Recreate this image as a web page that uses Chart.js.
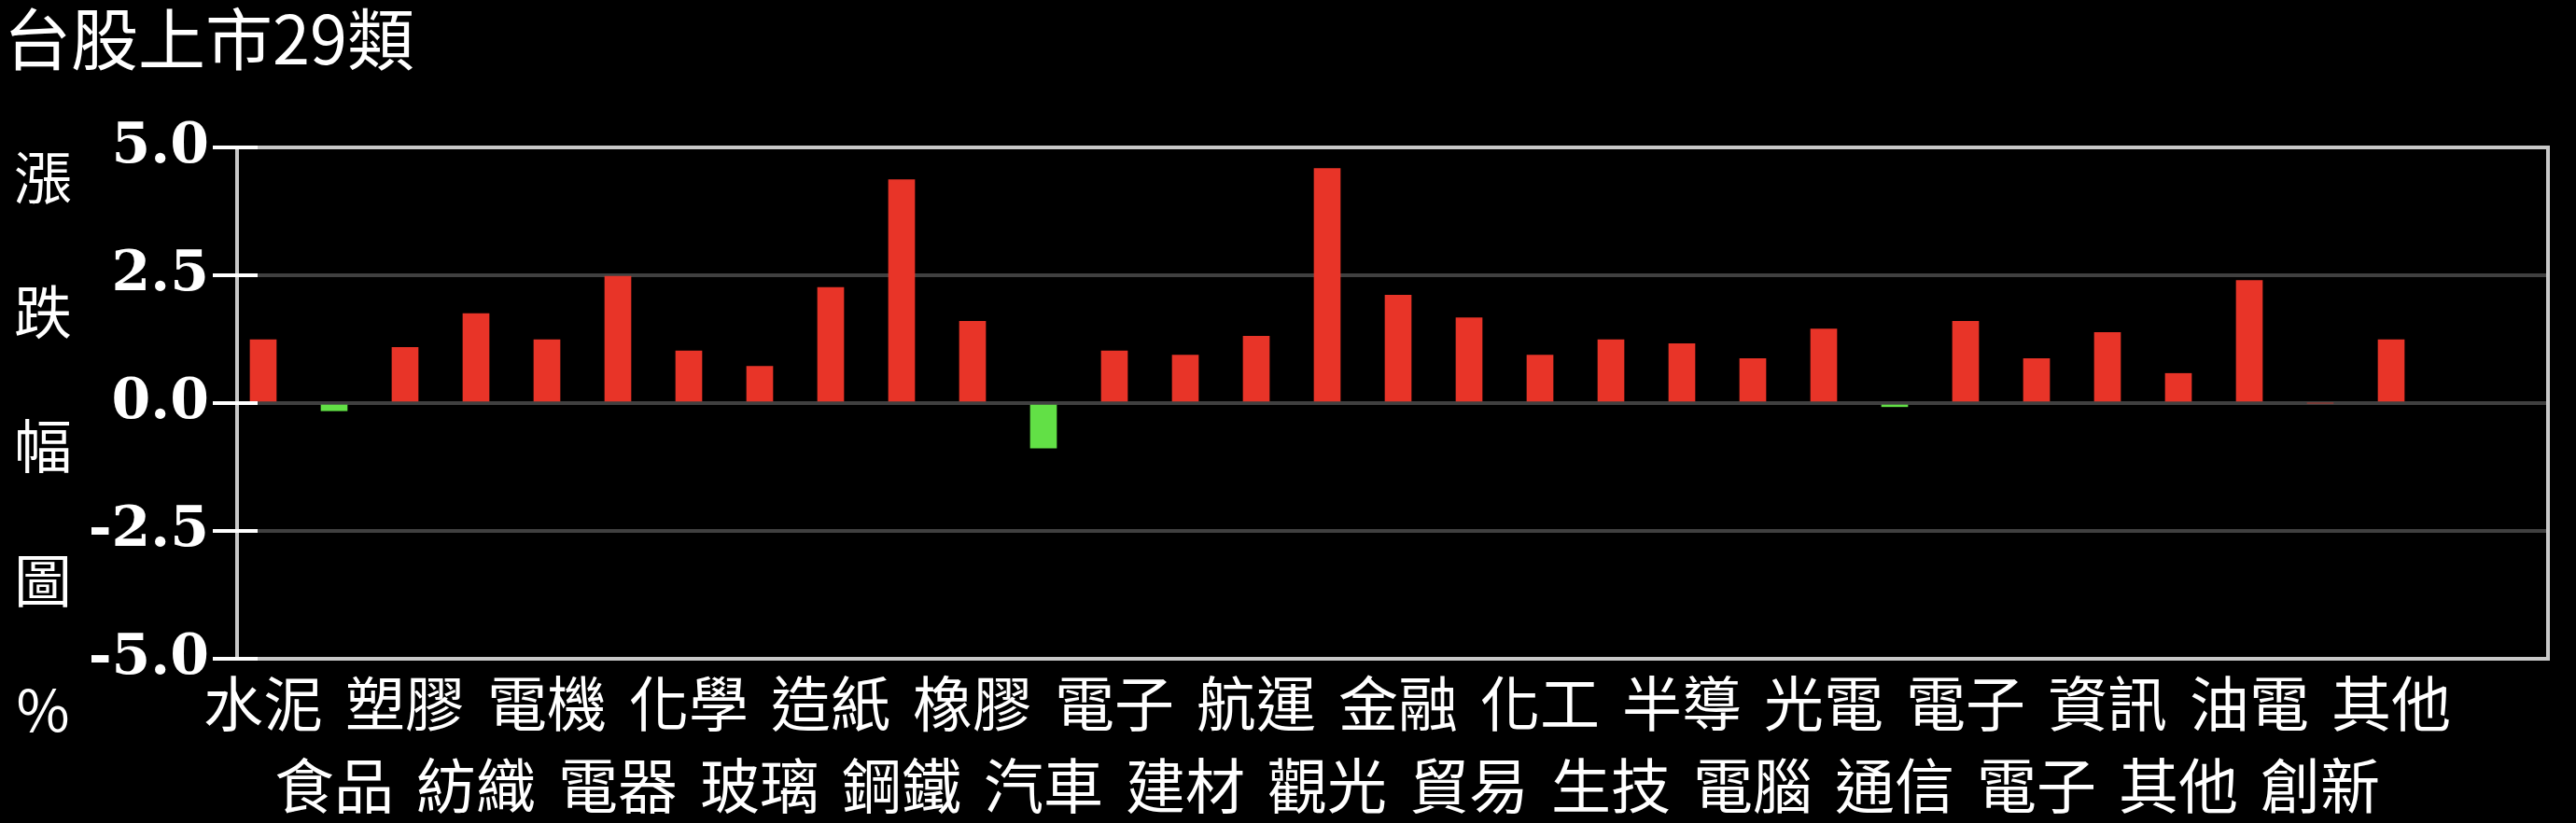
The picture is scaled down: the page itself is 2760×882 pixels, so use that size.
<!DOCTYPE html>
<html>
<head>
<meta charset="utf-8">
<script src="https://cdn.jsdelivr.net/npm/chart.js@4"></script>
<style>
html,body{margin:0;padding:0;background:#000;}
#wrap{width:2760px;height:882px;position:relative;background:#000;}
canvas{display:block;}
</style>
</head>
<body>
<div id="wrap"><canvas id="c" width="2760" height="882"></canvas></div>
<script>
const chartTitle = '台股上市29類';
const yAxisTitle = ['漲', '跌', '幅', '圖', '%'];
const categories = ['水泥','食品','塑膠','紡織','電機','電器','化學','玻璃','造紙','鋼鐵',
  '橡膠','汽車','電子','建材','航運','觀光','金融','貿易','化工','生技',
  '半導','電腦','光電','通信','電子','電子','資訊','其他','油電','創新','其他'];
const values = [1.24,-0.15,1.09,1.75,1.24,2.48,1.02,0.72,2.26,4.37,
  1.60,-0.88,1.02,0.94,1.31,4.59,2.11,1.67,0.94,1.24,
  1.16,0.87,1.45,-0.07,1.60,0.87,1.38,0.58,2.40,0,1.24];
const yMin = -5, yMax = 5, yStep = 2.5;

const UP = '#e83428', DOWN = '#62e046';
const BORDER = '#c8c8c8', GRID = '#404040';

const decorPlugin = {
  id: 'decor',
  beforeDraw(chart) {
    const ctx = chart.ctx;
    ctx.save();
    ctx.fillStyle = '#000';
    ctx.fillRect(0, 0, chart.width, chart.height);
    ctx.restore();
  },
  afterDraw(chart) {
    const ctx = chart.ctx, a = chart.chartArea, ys = chart.scales.y;
    ctx.save();
    // right border
    ctx.strokeStyle = BORDER;
    ctx.lineWidth = 4;
    ctx.beginPath();
    ctx.moveTo(a.right, a.top - 2);
    ctx.lineTo(a.right, a.bottom + 2);
    ctx.stroke();
    // inner white tick parts
    ctx.strokeStyle = '#fff';
    ys.ticks.forEach(t => {
      const p = ys.getPixelForValue(t.value);
      ctx.beginPath();
      ctx.moveTo(a.left - 2, p);
      ctx.lineTo(a.left + 22, p);
      ctx.stroke();
    });
    // title
    ctx.fillStyle = '#fff';
    ctx.textBaseline = 'middle';
    ctx.textAlign = 'left';
    ctx.font = '72px "Noto Sans CJK TC"';
    ctx.fillText(chartTitle, 4, 42);
    // vertical axis title
    ctx.font = '62px "Noto Sans CJK TC"';
    ctx.textAlign = 'center';
    const ys2 = [190, 334, 478, 622, 760];
    yAxisTitle.forEach((ch, i) => ctx.fillText(ch, 46, ys2[i]));
    ctx.restore();
  }
};

new Chart(document.getElementById('c'), {
  type: 'bar',
  data: {
    datasets: [{
      data: categories.map((c, i) => ({x: i, y: values[i]})),
      backgroundColor: values.map(v => v < 0 ? DOWN : UP),
      borderWidth: 0,
      barThickness: 28
    }]
  },
  options: {
    responsive: false,
    animation: false,
    devicePixelRatio: 1,
    layout: {padding: {top: 158, right: 30, left: 0, bottom: 0}},
    plugins: {legend: {display: false}, tooltip: {enabled: false}, title: {display: false}},
    scales: {
      x: {
        type: 'linear',
        offset: false,
        min: (254 - 282) / 76,
        max: (2730 - 282) / 76,
        afterBuildTicks: axis => { axis.ticks = categories.map((_, i) => ({value: i})); },
        afterFit: s => { s.height = 176; },
        grid: {display: false, drawTicks: false, offset: false},
        border: {display: false},
        ticks: {
          autoSkip: false,
          maxRotation: 0,
          minRotation: 0,
          padding: 4,
          color: '#fff',
          font: {family: '"Noto Sans CJK TC"', size: 64, lineHeight: 1.375},
          callback: (v) => {
            const i = Math.round(v);
            return i % 2 === 0 ? categories[i] : ['', categories[i]];
          }
        }
      },
      y: {
        min: yMin, max: yMax,
        z: 1,
        afterFit: s => { s.width = 254; },
        border: {display: true, color: BORDER, width: 4},
        grid: {
          color: c => (Math.abs(c.tick.value) === 5 ? BORDER : GRID),
          lineWidth: 4,
          tickColor: '#fff',
          tickLength: 26,
          tickWidth: 4
        },
        ticks: {
          stepSize: yStep,
          padding: 4,
          color: '#fff',
          font: {family: '"DejaVu Serif"', size: 60, weight: 'bold'},
          callback: v => v.toFixed(1)
        }
      }
    }
  },
  plugins: [decorPlugin]
});
</script>
</body>
</html>
